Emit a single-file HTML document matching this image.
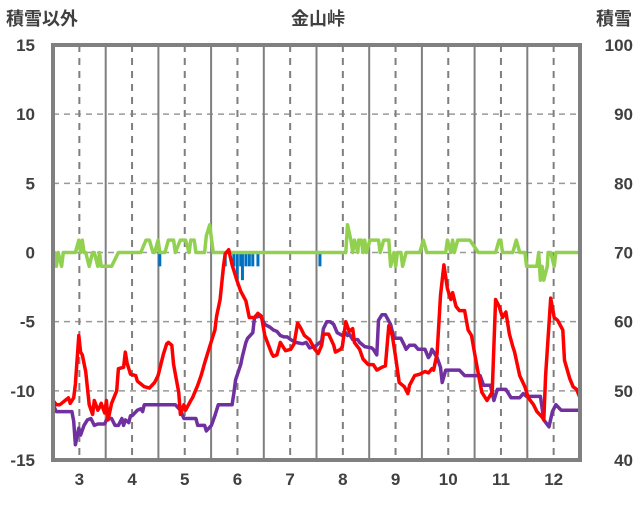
<!DOCTYPE html>
<html><head><meta charset="utf-8">
<style>
body{margin:0;background:#fff;}
svg text{font-family:"Liberation Sans","Noto Sans CJK JP",sans-serif;fill:#404040;}
</style></head>
<body>
<svg id="c" width="636" height="501" viewBox="0 0 636 501" xmlns="http://www.w3.org/2000/svg">
<rect width="636" height="501" fill="#fff"/>
<text x="318" y="25" text-anchor="middle" font-size="18" font-weight="bold">金山峠</text>
<text x="6" y="25" font-size="18" font-weight="bold">積雪以外</text>
<text x="632" y="25" text-anchor="end" font-size="18" font-weight="bold">積雪</text>
<g id="grid"></g><g id="marks"></g><g id="axes"></g>
</svg>
<script>
const leftTicks=[15,10,5,0,-5,-10,-15];
const rightTicks=[100,90,80,70,60,50,40];
const months=["3","4","5","6","7","8","9","10","11","12"];
const redDays=[0,2,4,7,9,10,12,13,15,16,17,19,21,23,24,26,27,28,30,31,32,34,37,38,41,42,43,45,48,49,51,53,56,59,61,64,66,67,69,70,73,74,76,77,80,81,84,86,88,91,94,95,97,99,100,102,104,107,109,112,114,117,119,121,123,127,128,130,132,134,135,138,140,142,144,146,149,152,154,156,157,160,163,164,167,168,170,172,174,175,178,180,183,186,188,191,193,195,197,199,201,204,206,207,210,213,216,218,220,221,223,225,227,229,231,232,234,236,239,241,243,245,247,249,252,255,257,259,261,263,265,267,268,271,274,276,279,281,284,285,286,289,291,293,296,297,300,302,304,306];
const redVals=[-10.7,-11.0,-11.0,-10.7,-10.5,-10.9,-10.5,-9.5,-6.0,-7.2,-7.4,-8.6,-11.0,-11.7,-10.7,-11.4,-11.2,-10.9,-11.6,-10.7,-12.1,-10.9,-10.0,-8.4,-8.3,-7.2,-8.0,-8.8,-8.9,-9.3,-9.5,-9.7,-9.8,-9.4,-8.9,-7.4,-6.6,-6.5,-6.7,-8.1,-10.1,-11.7,-11.0,-11.4,-10.7,-10.5,-9.6,-8.9,-8.0,-6.8,-5.6,-4.6,-3.4,-1.0,-0.1,0.2,-0.9,-2.1,-2.8,-3.5,-4.7,-4.7,-4.4,-4.6,-6.0,-7.3,-7.5,-7.4,-6.5,-6.9,-7.1,-7.0,-6.6,-5.1,-5.5,-6.0,-6.3,-7.0,-7.3,-6.7,-5.9,-5.9,-6.7,-7.2,-7.0,-6.8,-5.0,-5.7,-5.5,-6.5,-7.0,-7.7,-8.1,-8.1,-8.5,-8.3,-8.2,-5.3,-6.0,-7.6,-9.4,-9.7,-10.2,-9.6,-8.9,-8.8,-8.6,-8.7,-8.4,-8.5,-7.3,-3.1,-0.9,-2.6,-3.4,-2.9,-3.9,-4.2,-4.2,-5.6,-6.0,-7.4,-8.8,-10.1,-10.7,-10.1,-3.4,-3.9,-4.7,-4.3,-5.9,-6.8,-7.2,-8.9,-9.7,-10.5,-11.0,-11.5,-11.9,-12.1,-8.9,-3.3,-4.7,-4.9,-5.6,-7.8,-9.1,-9.7,-9.9,-10.5];
const purDays=[0,2,5,7,11,12,13,15,16,18,20,22,24,26,30,31,33,34,36,38,40,41,42,44,45,46,49,51,52,53,57,62,71,74,76,83,84,88,89,92,94,96,104,105,106,109,110,112,113,116,117,120,121,123,126,128,130,132,134,136,138,141,145,147,149,152,156,157,159,161,163,165,168,170,171,172,174,177,178,181,185,186,188,189,191,193,196,198,202,204,205,207,210,212,216,218,219,220,223,225,226,228,236,239,248,250,254,256,258,260,263,266,271,273,275,277,283,285,288,290,292,295,306];
const purVals=[-11.0,-11.5,-11.5,-11.5,-11.5,-12.2,-13.9,-12.7,-13.2,-12.5,-12.1,-12.0,-12.5,-12.4,-12.4,-12.1,-12.0,-12.0,-12.5,-12.5,-12.0,-12.5,-12.1,-12.3,-11.8,-11.8,-11.4,-11.3,-11.5,-11.0,-11.0,-11.0,-11.0,-11.4,-12.0,-12.0,-12.5,-12.5,-12.9,-12.5,-11.8,-11.0,-11.0,-10.2,-9.2,-8.1,-7.5,-6.5,-6.2,-5.8,-4.7,-4.6,-4.7,-5.2,-5.4,-5.6,-5.7,-6.0,-6.1,-6.1,-6.3,-6.5,-6.6,-6.5,-6.9,-6.8,-6.4,-5.5,-5.0,-5.0,-5.2,-5.8,-6.0,-5.8,-6.0,-5.9,-6.3,-6.3,-6.5,-6.8,-6.9,-7.0,-7.4,-4.9,-4.5,-4.5,-5.2,-6.2,-6.2,-6.7,-7.0,-6.7,-6.7,-7.0,-7.0,-7.6,-7.4,-7.0,-7.6,-8.3,-9.4,-8.5,-8.5,-8.9,-8.9,-9.6,-9.6,-10.7,-9.9,-9.9,-9.9,-10.5,-10.5,-10.2,-10.4,-10.4,-10.4,-12.1,-12.6,-11.5,-11.0,-11.4,-11.4];
const grnDays=[0,1,2,3,5,6,8,9,13,15,16,17,18,19,21,23,24,26,27,28,34,38,51,54,56,58,59,61,62,65,67,70,71,74,77,79,80,82,83,88,89,91,93,170,171,173,174,175,177,177.5,179,180,181,182,184,189,190,192,195,196,198,199,200,202,203,205,213,215,217,228,229,231,232,233,235,242,247,257,259,260,261,267,269,271,274,275,281,282,283,284,285,287,287.5,289,291,292,306];
const grnVals=[-1,0,-1,0,-1,0,0,0,0,0.9,0,0.9,0,0,-1,0,0,-1,0,-1,-1,0,0,0.9,0.9,0,0,0.9,0,0,0.9,0.9,0,0.9,0.9,0,0.9,0.9,0,0,1.2,2,0,0,2,0.9,0,0.9,0,0.9,0.9,0,0.9,0,0.9,0.9,0,0.9,0.9,-1,0,-1,0,0,-1,0,0,0.9,0,0,0.9,0,0.9,0,0.9,0.9,0,0,0.9,0.9,0,0,0.9,0,0,-1,-1,0,-2,-1,-2,-1,0,0,-1,0,0];
const snowDays=[62,100,105,107,109,110,112,114,116,119,155];
const snowVals=[-1,-1,-1,-2,-1,-2,-1,-1,-1,-1,-1];

const L=53,R=580,T=45,B=460,NS='http://www.w3.org/2000/svg';
const xS=d=>L+d*(R-L)/306;
const yS=v=>T+(15-v)*(B-T)/30;
function mk(tag,at,parent){const e=document.createElementNS(NS,tag);for(const k in at)e.setAttribute(k,at[k]);document.getElementById(parent).appendChild(e);return e;}
// grid
leftTicks.forEach(v=>{if(v===15||v===-15)return;const e=mk('line',{x1:L,x2:R,y1:yS(v),y2:yS(v),stroke:'#999','stroke-width':1.5,'stroke-dasharray':'6,5'},'grid');

});
for(let m=1;m<10;m++){const x=L+m*(R-L)/10;const e=mk('line',{x1:x,x2:x,y1:T,y2:B,stroke:'#7f7f7f','stroke-width':2},'grid');

}
months.forEach((m,i)=>{const x=L+(i+0.5)*(R-L)/10;const e=mk('line',{x1:x,x2:x,y1:T,y2:B,stroke:'#7f7f7f','stroke-width':2,'stroke-dasharray':'7,6'},'grid');


const t=mk('text',{x:x,y:485,'text-anchor':'middle','font-size':17,'font-weight':'bold'},'axes');t.textContent=m;

});
leftTicks.forEach(v=>{const t=mk('text',{x:35,y:yS(v)+6,'text-anchor':'end','font-size':17,'font-weight':'bold'},'axes');t.textContent=v;

});
rightTicks.forEach((v,i)=>{const t=mk('text',{x:633,y:T+i*(B-T)/6+6,'text-anchor':'end','font-size':17,'font-weight':'bold'},'axes');t.textContent=v;

});
// bars
snowDays.forEach((d,i)=>{const y0=yS(0),y1=yS(snowVals[i]);const r=mk('rect',{x:xS(d)-1.5,y:y0,width:3,height:y1-y0,fill:'#0070c0'},'marks');

});
function line(ds,vs,col,name){const p=ds.map((d,i)=>xS(d).toFixed(1)+','+yS(vs[i]).toFixed(1)).join(' ');
const e=mk('polyline',{points:p,fill:'none',stroke:col,'stroke-width':3.5,'stroke-linejoin':'round'},'marks');

}
line(grnDays,grnVals,'#92d050','green-series-line');
line(purDays,purVals,'#7030a0','purple-series-line');
line(redDays,redVals,'#ff0000','red-series-line');
const f=mk('rect',{x:L,y:T,width:R-L,height:B-T,fill:'none',stroke:'#808080','stroke-width':4},'axes');


</script>
</body></html>
